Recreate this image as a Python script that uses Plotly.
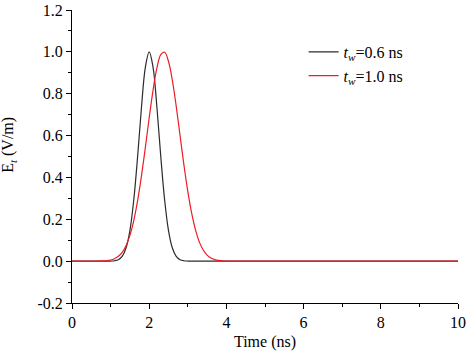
import plotly.graph_objects as go

# Time axis samples (ns)
time_ns = [0, 0.5, 0.8, 0.9, 1.0, 1.1, 1.2, 1.3, 1.4, 1.5, 1.6, 1.7, 1.8, 1.9,
           2.0, 2.1, 2.2, 2.3, 2.4, 2.5, 2.6, 2.7, 2.8, 2.9, 3.0, 3.1, 3.2, 3.3,
           3.4, 3.5, 3.6, 3.7, 3.8, 3.9, 4.0, 5, 6, 7, 8, 9, 10]

# E_t for t_w = 0.6 ns (black)
e_tw06 = [0, 0, 0.0, 0.0001, 0.0005, 0.002, 0.007, 0.023, 0.063, 0.146, 0.292,
          0.500, 0.735, 0.926, 1.000, 0.926, 0.735, 0.500, 0.292, 0.146, 0.063,
          0.023, 0.007, 0.002, 0.0005, 0.0001, 0, 0, 0, 0, 0, 0, 0, 0, 0,
          0, 0, 0, 0, 0, 0]

# E_t for t_w = 1.0 ns (red)
e_tw10 = [0, 0, 0.001, 0.0025, 0.0055, 0.0115, 0.023, 0.042, 0.074, 0.123,
          0.194, 0.289, 0.407, 0.543, 0.685, 0.817, 0.923, 0.987, 0.998, 0.954,
          0.864, 0.740, 0.599, 0.459, 0.333, 0.229, 0.149, 0.091, 0.053, 0.029,
          0.015, 0.0075, 0.0035, 0.0015, 0.0006, 0, 0, 0, 0, 0, 0]

x_tick_vals = [0, 2, 4, 6, 8, 10]
x_tick_text = ["0", "2", "4", "6", "8", "10"]
y_tick_vals = [-0.2, 0.0, 0.2, 0.4, 0.6, 0.8, 1.0, 1.2]
y_tick_text = ["-0.2", "0.0", "0.2", "0.4", "0.6", "0.8", "1.0", "1.2"]

series_names = ["<i>t</i><sub><i>w</i></sub>=0.6 ns", "<i>t</i><sub><i>w</i></sub>=1.0 ns"]

FONT = "Liberation Serif"
FS = 16

fig = go.Figure()
fig.add_trace(go.Scatter(x=time_ns, y=e_tw06, mode="lines", name=series_names[0],
                         line=dict(color="#2b2b2b", width=1.2, shape="spline")))
fig.add_trace(go.Scatter(x=time_ns, y=e_tw10, mode="lines", name=series_names[1],
                         line=dict(color="#ee1c25", width=1.2, shape="spline")))

fig.update_layout(
    width=470, height=357,
    margin=dict(l=72, r=12, t=10, b=54, autoexpand=False),
    paper_bgcolor="white", plot_bgcolor="white",
    font=dict(family=FONT, size=FS, color="black"),
    showlegend=True,
    legend=dict(x=0.60, y=0.915, xanchor="left", yanchor="top",
                bgcolor="rgba(0,0,0,0)", font=dict(family=FONT, size=FS),
                tracegroupgap=0, itemwidth=30),
    xaxis=dict(range=[0, 10], showgrid=False, zeroline=False, automargin=False,
               showline=True, linecolor="black", linewidth=1,
               ticks="outside", ticklen=5, tickcolor="black",
               tickfont=dict(family=FONT, size=FS),
               tickmode="array", tickvals=x_tick_vals, ticktext=x_tick_text,
               minor=dict(ticks="outside", ticklen=3, tickcolor="black",
                          tickmode="linear", tick0=0, dtick=1, showgrid=False),
               title=dict(text="Time (ns)", standoff=5,
                          font=dict(family=FONT, size=FS))),
    yaxis=dict(range=[-0.2, 1.2], showgrid=False, zeroline=False, automargin=False,
               showline=True, linecolor="black", linewidth=1,
               ticks="outside", ticklen=5, tickcolor="black",
               tickfont=dict(family=FONT, size=FS),
               tickmode="array", tickvals=y_tick_vals, ticktext=y_tick_text,
               minor=dict(ticks="outside", ticklen=3, tickcolor="black",
                          tickmode="linear", tick0=0, dtick=0.1, showgrid=False)),
)

fig.add_annotation(text="E<sub><i>t</i></sub> (V/m)", textangle=-90,
                   xref="paper", yref="paper", x=-0.163, y=0.54,
                   xanchor="center", yanchor="middle", showarrow=False,
                   font=dict(family=FONT, size=FS))

fig.write_html("out.html", config={"displayModeBar": False},
               post_script="document.body.style.margin='0';document.body.style.padding='0';")
